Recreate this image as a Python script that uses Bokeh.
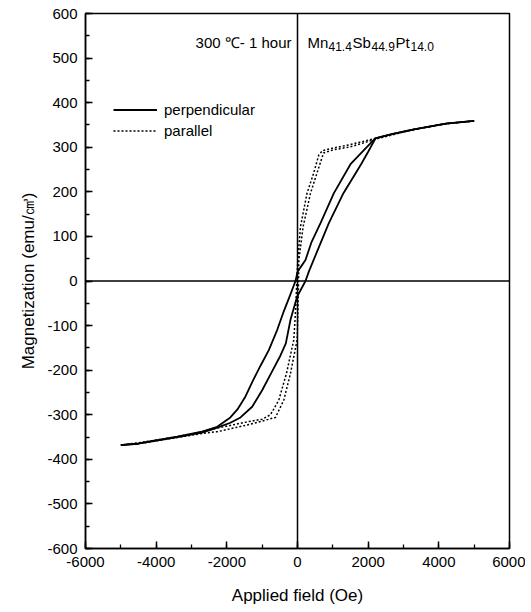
from bokeh.plotting import figure
from bokeh.models import (Span, Label, Legend, LegendItem, SingleIntervalTicker,
                          PrintfTickFormatter, Range1d)
from bokeh.embed import file_html
from bokeh.resources import INLINE

# Perpendicular (solid) loop
perp_desc_H = [5000, 4200, 3300, 2700, 2200, 1900, 1500, 1030, 651, 400, 226, 80, 0, -57, -200,
               -388, -576, -812, -1047, -1272, -1472, -1700, -1900, -2273, -2700, -3400, -4500, -5000]
perp_desc_M = [359, 353, 340, 330, 320, 295, 262, 197, 130, 88, 47, 30, 20, 0, -30,
               -68, -110, -155, -190, -225, -259, -288, -306, -327, -338, -349, -364, -368]
perp_asc_H = [-5000, -4500, -3400, -2700, -2273, -1900, -1613, -1283, -1000, -700, -500, -330, -198,
              -10, 226, 321, 600, 887, 1300, 1800, 2000, 2208, 2700, 3300, 4200, 5000]
perp_asc_M = [-368, -365, -350, -340, -329, -318, -306, -282, -245, -200, -170, -140, -87,
              -35, 0, 21, 75, 130, 197, 262, 290, 320, 330, 340, 353, 359]

# Parallel (dotted) loop
par_desc_H = [5000, 4200, 3300, 2300, 1500, 1000, 700, 600, 450, 270, 85, 10, -20, -50, -105,
              -311, -529, -764, -1000, -1424, -2273, -2700, -3400, -4500, -5000]
par_desc_M = [359, 353, 340, 322, 306, 298, 292, 282, 240, 197, 122, 47, 0, -60, -132,
              -207, -267, -300, -310, -316, -330, -338, -349, -363, -368]
par_asc_H = [-5000, -4500, -3400, -2700, -2273, -1424, -900, -623, -387, -198, -10, 15, 30, 38,
             160, 368, 670, 736, 1000, 1500, 2300, 3300, 4200, 5000]
par_asc_M = [-368, -365, -351, -342, -338, -323, -312, -306, -267, -207, -132, -60, 0, 47,
             122, 197, 271, 287, 294, 301, 320, 340, 353, 359]

FONT = "Liberation Sans"

p = figure(width=525, height=610, output_backend="svg", toolbar_location=None,
           x_range=Range1d(-6000, 6000), y_range=Range1d(-600, 600),
           min_border_left=85, min_border_right=16, min_border_top=13, min_border_bottom=62)
p.grid.visible = False
p.outline_line_color = "black"
p.outline_line_width = 1.5
p.background_fill_color = "white"
p.border_fill_color = "white"

p.xaxis.ticker = SingleIntervalTicker(interval=2000, num_minor_ticks=2)
p.yaxis.ticker = SingleIntervalTicker(interval=100, num_minor_ticks=2)
for ax in (p.xaxis[0], p.yaxis[0]):
    ax.formatter = PrintfTickFormatter(format="%d")
    ax.major_tick_in = 7
    ax.major_tick_out = 0
    ax.minor_tick_in = 4
    ax.minor_tick_out = 0
    ax.axis_line_color = "black"
    ax.axis_line_width = 1.5
    ax.major_tick_line_color = "black"
    ax.minor_tick_line_color = "black"
    ax.major_tick_line_width = 1.5
    ax.minor_tick_line_width = 1.3
    ax.major_label_text_font = FONT
    ax.major_label_text_font_size = "15px"
    ax.major_label_text_color = "black"
    ax.axis_label_text_font = FONT
    ax.axis_label_text_font_size = "17px"
    ax.axis_label_text_font_style = "normal"
    ax.axis_label_text_color = "black"

p.xaxis.axis_label = "Applied field (Oe)"
p.yaxis.axis_label = "Magnetization (emu/㎤)"
p.xaxis.major_label_standoff = 8
p.xaxis.axis_label_standoff = 16
p.yaxis.major_label_standoff = 8
p.yaxis.axis_label_standoff = 6

p.add_layout(Span(location=0, dimension="height", line_color="black", line_width=1.5))
p.add_layout(Span(location=0, dimension="width", line_color="black", line_width=1.5))

r1 = p.line(perp_desc_H, perp_desc_M, line_color="black", line_width=1.8)
r2 = p.line(perp_asc_H, perp_asc_M, line_color="black", line_width=1.8)
r3 = p.line(par_desc_H, par_desc_M, line_color="black", line_width=1.5, line_dash="2 2")
r4 = p.line(par_asc_H, par_asc_M, line_color="black", line_width=1.5, line_dash="2 2")

legend = Legend(items=[LegendItem(label="perpendicular", renderers=[r1]),
                       LegendItem(label="parallel", renderers=[r3])],
                location=(28, 407), padding=0, margin=0, spacing=0,
                glyph_width=44, glyph_height=21, label_height=21, label_standoff=7,
                label_text_font=FONT, label_text_font_size="15px", label_text_color="black",
                border_line_alpha=0, background_fill_alpha=0)
p.add_layout(legend)

# Annotation texts
p.add_layout(Label(x=0, y=536, x_offset=-6, text="300 ℃- 1 hour", text_align="right",
                   text_baseline="alphabetic", text_font=FONT, text_font_size="15px",
                   text_color="black"))
parts = [("Mn", 10, 536, "15px"), ("41.4", 31, 525, "12px"), ("Sb", 55, 536, "15px"),
         ("44.9", 74, 525, "12px"), ("Pt", 98, 536, "15px"), ("14.0", 113, 525, "12px")]
for t, off, yy, fs in parts:
    p.add_layout(Label(x=0, y=yy, x_offset=off, text=t, text_align="left",
                       text_baseline="alphabetic", text_font=FONT, text_font_size=fs,
                       text_color="black"))

open("out.html", "w").write(file_html(p, INLINE))
